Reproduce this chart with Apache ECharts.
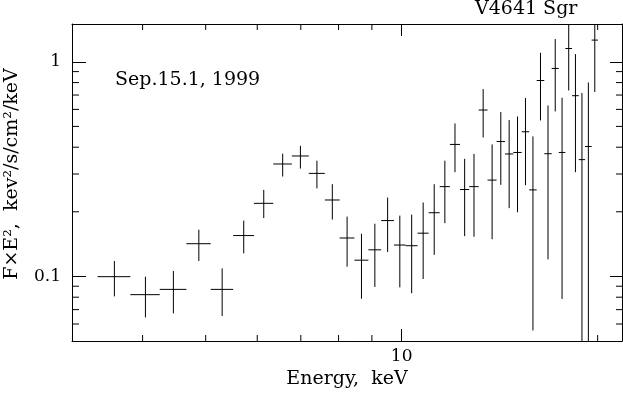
<!DOCTYPE html>
<html>
<head>
<meta charset="utf-8">
<script src="https://cdn.jsdelivr.net/npm/echarts@6/dist/echarts.min.js"></script>
<style>
  html, body { margin: 0; padding: 0; background: #fff; }
  #chart { width: 623px; height: 394px; }
</style>
</head>
<body>
<div id="chart"></div>
<script>
// energy bin edges (keV), contiguous bins
const binEdges = [3.41, 3.83, 4.25, 4.67, 5.09, 5.51, 5.93, 6.35, 6.78, 7.20,
  7.62, 8.03, 8.46, 8.89, 9.30, 9.73, 10.14, 10.58, 11.00, 11.44,
  11.86, 12.29, 12.70, 13.13, 13.55, 13.99, 14.41, 14.84, 15.29, 15.70,
  16.12, 16.56, 17.00, 17.43, 17.84, 18.27, 18.71, 19.13, 19.58, 20.02];
// F x E^2 per bin
const flux = [0.0997, 0.0822, 0.0870, 0.142, 0.0870, 0.155, 0.219, 0.334, 0.364, 0.302,
  0.227, 0.151, 0.119, 0.133, 0.182, 0.140, 0.139, 0.159, 0.198, 0.262,
  0.412, 0.254, 0.262, 0.596, 0.281, 0.425, 0.372, 0.378, 0.472, 0.253,
  0.818, 0.373, 0.931, 0.378, 1.153, 0.695, 0.350, 0.403, 1.262];
const fluxHi = [0.118, 0.0997, 0.106, 0.165, 0.109, 0.182, 0.253, 0.373, 0.406, 0.346,
  0.269, 0.190, 0.158, 0.176, 0.233, 0.192, 0.194, 0.221, 0.269, 0.346,
  0.516, 0.353, 0.372, 0.746, 0.412, 0.583, 0.535, 0.556, 0.678, 0.449,
  1.101, 0.626, 1.276, 0.680, 1.8, 1.086, 0.715, 0.801, 2.0];
const fluxLo = [0.0807, 0.0644, 0.0673, 0.118, 0.0654, 0.128, 0.187, 0.292, 0.318, 0.257,
  0.184, 0.111, 0.0787, 0.0893, 0.130, 0.0889, 0.0835, 0.0972, 0.126, 0.177,
  0.306, 0.154, 0.153, 0.444, 0.149, 0.267, 0.208, 0.199, 0.266, 0.056,
  0.533, 0.120, 0.587, 0.0785, 0.735, 0.306, 0.02, 0.02, 0.723];

const xRange = [3.116, 21.8];
const yRange = [0.05, 1.5];
const xTickLabels = ['10'];
const yTickLabels = ['0.1', '1'];
const xMinorTicks = [4, 5, 6, 7, 8, 9, 20];
const yMinorTicks = [0.06, 0.07, 0.08, 0.09, 0.2, 0.3, 0.4, 0.5, 0.6, 0.7, 0.8, 0.9];

const FONT = 'DejaVu Serif';
const chart = echarts.init(document.getElementById('chart'));

const points = flux.map((f, i) => [binEdges[i], binEdges[i + 1], f, fluxLo[i], fluxHi[i]]);

function pickLabel(list) {
  return function (v) {
    const hit = list.find((s) => Math.abs(Number(s) - v) < 1e-6 * Math.max(1, v));
    return hit || '';
  };
}

const lineStyle = { stroke: '#000', lineWidth: 1 };

function baseAxis(type, range, pos, showLabel, labels, tickLen) {
  return {
    type: 'log',
    logBase: 10,
    position: pos,
    min: range[0],
    max: range[1],
    splitLine: { show: false },
    axisLine: { show: true, onZero: false, lineStyle: { color: '#000', width: 1 } },
    axisTick: { show: true, inside: true, length: tickLen, lineStyle: { color: '#000', width: 1 } },
    axisLabel: {
      show: showLabel,
      showMinLabel: false,
      showMaxLabel: false,
      color: '#000',
      fontFamily: FONT,
      fontSize: 17,
      margin: type === 'x' ? 7 : 11,
      formatter: pickLabel(labels)
    }
  };
}

const xBottom = baseAxis('x', xRange, 'bottom', true, xTickLabels, 12);
xBottom.name = 'Energy,  keV';
xBottom.nameLocation = 'middle';
xBottom.nameGap = 29;
xBottom.nameTextStyle = { color: '#000', fontFamily: FONT, fontSize: 19 };

const option = {
  animation: false,
  backgroundColor: '#fff',
  grid: { left: 72, top: 24, right: 1, bottom: 53 },
  xAxis: [xBottom, baseAxis('x', xRange, 'top', false, xTickLabels, 12)],
  yAxis: [baseAxis('y', yRange, 'left', true, yTickLabels, 14), baseAxis('y', yRange, 'right', false, yTickLabels, 12)],
  graphic: [
    {
      type: 'text', left: 475, top: 0,
      style: { text: 'V4641 Sgr', fill: '#000', font: '19px "DejaVu Serif"' }
    },
    {
      type: 'text', left: 115, top: 71,
      style: { text: 'Sep.15.1, 1999', fill: '#000', font: '19px "DejaVu Serif"' }
    },
    {
      type: 'text', x: 12, y: 174, rotation: Math.PI / 2,
      style: { text: 'F×E²,  kev²/s/cm²/keV', fill: '#000', font: '19px "DejaVu Serif"', align: 'center', verticalAlign: 'middle' }
    }
  ],
  series: [
    {
      type: 'custom',
      name: 'spectrum',
      clip: true,
      xAxisIndex: 0,
      yAxisIndex: 0,
      data: points,
      encode: { x: [0, 1], y: [2, 3, 4] },
      renderItem: function (params, api) {
        const lo = api.value(0), hi = api.value(1), f = api.value(2);
        const mid = (lo + hi) / 2;
        const a = api.coord([lo, f]), b = api.coord([hi, f]);
        const c = api.coord([mid, api.value(3)]), d = api.coord([mid, api.value(4)]);
        return {
          type: 'group',
          children: [
            { type: 'line', shape: { x1: a[0], y1: a[1], x2: b[0], y2: b[1] }, style: lineStyle },
            { type: 'line', shape: { x1: c[0], y1: c[1], x2: d[0], y2: d[1] }, style: lineStyle }
          ]
        };
      }
    },
    {
      // minor ticks on the energy axis (bottom and top)
      type: 'custom',
      silent: true,
      data: xMinorTicks.map((v) => [v, 0.1]),
      renderItem: function (params, api) {
        const cs = params.coordSys;
        const px = api.coord([api.value(0), 0.1])[0];
        const yb = cs.y + cs.height, yt = cs.y;
        return {
          type: 'group',
          children: [
            { type: 'line', shape: { x1: px, y1: yb, x2: px, y2: yb - 6 }, style: lineStyle },
            { type: 'line', shape: { x1: px, y1: yt, x2: px, y2: yt + 6 }, style: lineStyle }
          ]
        };
      }
    },
    {
      // minor ticks on the flux axis (left and right)
      type: 'custom',
      silent: true,
      data: yMinorTicks.map((v) => [10, v]),
      renderItem: function (params, api) {
        const cs = params.coordSys;
        const py = api.coord([10, api.value(1)])[1];
        const xl = cs.x, xr = cs.x + cs.width;
        return {
          type: 'group',
          children: [
            { type: 'line', shape: { x1: xl, y1: py, x2: xl + 7, y2: py }, style: lineStyle },
            { type: 'line', shape: { x1: xr, y1: py, x2: xr - 6, y2: py }, style: lineStyle }
          ]
        };
      }
    }
  ]
};

chart.setOption(option);
</script>
</body>
</html>
